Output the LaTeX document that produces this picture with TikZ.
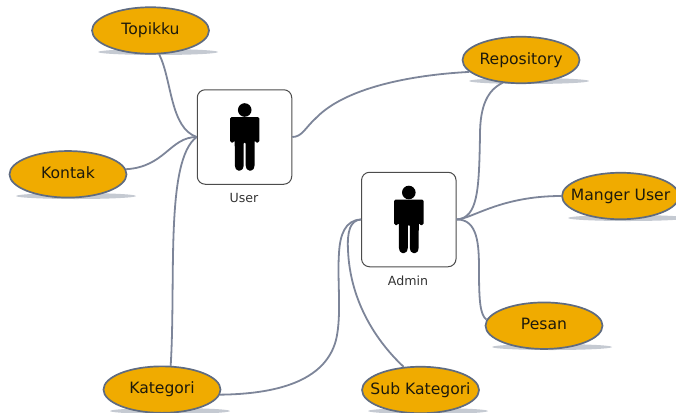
\documentclass[tikz,border=0pt]{standalone}
\usepackage{fontspec}
\setmainfont{DejaVu Sans}
\usetikzlibrary{shapes.geometric}
\definecolor{topicfill}{HTML}{F0AB00}
\definecolor{topicedge}{HTML}{5F6B80}
\definecolor{linkcol}{HTML}{7D8599}
\definecolor{shadowcol}{HTML}{C5CAD2}
\definecolor{inktext}{HTML}{1E1A0C}
\tikzset{
  topic/.style={ellipse,draw=topicedge,line width=1.7pt,fill=topicfill,minimum width=117pt,minimum height=46.5pt,inner sep=0pt,text=inktext,font=\fontsize{15.6}{18}\selectfont,
    execute at begin node={\hbox to 0pt\bgroup\hss\vphantom{Kg}},execute at end node={\hss\egroup}},
  shade/.style={ellipse,fill=shadowcol,minimum width=120pt,minimum height=6pt,inner sep=0pt},
  actor/.style={rectangle,rounded corners=8pt,draw=black!70,line width=1pt,fill=white,minimum width=94.5pt,minimum height=94.5pt,inner sep=0pt},
  caption/.style={font=\fontsize{12.6}{14}\selectfont,text=black!80,inner sep=0pt},
  link/.style={draw=linkcol,line width=1.8pt}
}
\newcommand{\personicon}[2]{%
  \begin{scope}[shift={(#1,#2)}]
    \fill[black] (0,-27) circle (6.8);
    \fill[black,rounded corners=1.5pt] (-14.7,-20) -- (14.7,-20) -- (14.7,5.5) -- (10.5,5.5) -- (10,3) -- (9.8,30) -- (8,33.5) -- (3,33.5) -- (1,30) -- (1,5) -- (-1,5) -- (-1,30) -- (-3,33.5) -- (-8,33.5) -- (-9.8,30) -- (-10,3) -- (-10.5,5.5) -- (-14.7,5.5) -- cycle;
  \end{scope}}
\begin{document}
\begin{tikzpicture}[x=1pt,y=-1pt]
\useasboundingbox (0,0) rectangle (676,412);
\clip (0,0) rectangle (676,412);
% shadows
\node[shade] (s1) at (158,52) {};
\node[shade] (s2) at (76,196) {};
\node[shade] (s3) at (170,411) {};
\node[shade] (s4) at (529,81) {};
\node[shade] (s5) at (628,218) {};
\node[shade] (s6) at (552,347) {};
\node[shade] (s7) at (428,411) {};
% nodes
\node[topic] (topikku) at (150.5,30.5) {Topikku};
\node[topic] (kontak) at (68,174.3) {Kontak};
\node[topic] (kategori) at (162,389.6) {Kategori};
\node[topic] (repository) at (521,60) {Repository};
\node[topic] (manger) at (620.5,196) {Manger User};
\node[topic] (pesan) at (544,325.7) {Pesan};
\node[topic] (subkat) at (420.5,390) {Sub Kategori};
\node[actor] (user) at (244.5,137) {};
\node[actor] (admin) at (408.8,219.5) {};
\personicon{244.7}{137}
\personicon{408.8}{219.5}
\node[caption] (userlabel) at (244,198) {User};
\node[caption] (adminlabel) at (408,281) {Admin};
% connectors
\draw[link] (topikku.-70) .. controls (172,80) and (170,128) .. (user.west);
\draw[link] (kontak.5) .. controls (165,167) and (170,137) .. (user.west);
\draw[link] (kategori.70) .. controls (176,280) and (165,160) .. (user.west);
\draw[link] (user.east) .. controls (302,137) and (305,128) .. (316,118) .. controls (345,88) and (410,75) .. (repository.193);
\draw[link] (repository.231) .. controls (488,90) and (480,105) .. (480,135) .. controls (479,190) and (478,218) .. (admin.east);
\draw[link] (manger.west) .. controls (500,196) and (472,219) .. (admin.east);
\draw[link] (admin.east) .. controls (478,219) and (479,245) .. (479,270) .. controls (479,300) and (480,315) .. (pesan.174);
\draw[link] (admin.west) .. controls (350,220) and (347,232) .. (348,250) .. controls (350,300) and (375,340) .. (subkat.126);
\draw[link] (kategori.-5) .. controls (275,394) and (325,382) .. (336,340) .. controls (342,315) and (337,280) .. (339,253) .. controls (340,235) and (345,220) .. (admin.west);
\end{tikzpicture}
\end{document}
